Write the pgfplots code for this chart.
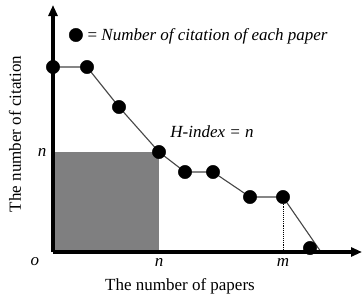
\documentclass[border=0pt]{standalone}
\usepackage{fontspec}
\setmainfont{Liberation Serif}
\usepackage{pgfplots}
\pgfplotsset{compat=1.18}
\usetikzlibrary{arrows.meta}
\definecolor{rectgray}{HTML}{7F7F80}
\definecolor{linegray}{HTML}{454545}
\begin{document}
\begin{tikzpicture}[font=\fontsize{17}{20}\selectfont]
\begin{axis}[
  x=1pt, y=1pt,
  xmin=0, xmax=309, ymin=0, ymax=247,
  axis lines=left,
  axis line style={line width=3.2pt, -{Triangle[length=11pt,width=9pt]}},
  axis on top=true,
  xtick={106,230}, xticklabels={\textit{n},\textit{m}},
  ytick={100}, yticklabels={\textit{n}},
  major tick length=0pt,
  xticklabel style={yshift=-3pt},
  yticklabel style={xshift=-3pt},
  clip=false,
  legend style={at={(axis cs:16,217)}, anchor=west, draw=none, fill=none, inner sep=0pt,
    font=\fontsize{17}{20}\selectfont},
  legend cell align=left,
  legend image code/.code={\pgfuseplotmark{*}},
]
\addplot[fill=rectgray, draw=none, forget plot] coordinates {(0,100) (106,100)} \closedcycle;
\addplot[linegray, line width=1.1pt, forget plot] coordinates {
 (0,185) (34,185) (66,145) (106,100) (132,80) (160,80) (197,55) (230,55) (268,0)};
\addplot[densely dotted, line width=0.9pt, forget plot] coordinates {(230,0) (230,55)};
\addplot[only marks, mark=*, mark size=6.7pt, black] coordinates {
 (0,185) (34,185) (66,145) (106,100) (132,80) (160,80) (197,55) (230,55) (257,4)};
\addlegendentry{\hspace{3pt}= \textit{Number of citation of each paper}}
\node at (axis cs:-18,-10) {\textit{o}};
\node at (axis cs:159,120) {\textit{H-index = n}};
\node at (axis cs:127,-34) {The number of papers};
\node[rotate=90] at (axis cs:-38,118) {The number of citation};
\end{axis}
\pgfresetboundingbox
\path (-53pt,-46pt) rectangle (309pt,252pt);
\end{tikzpicture}
\end{document}
